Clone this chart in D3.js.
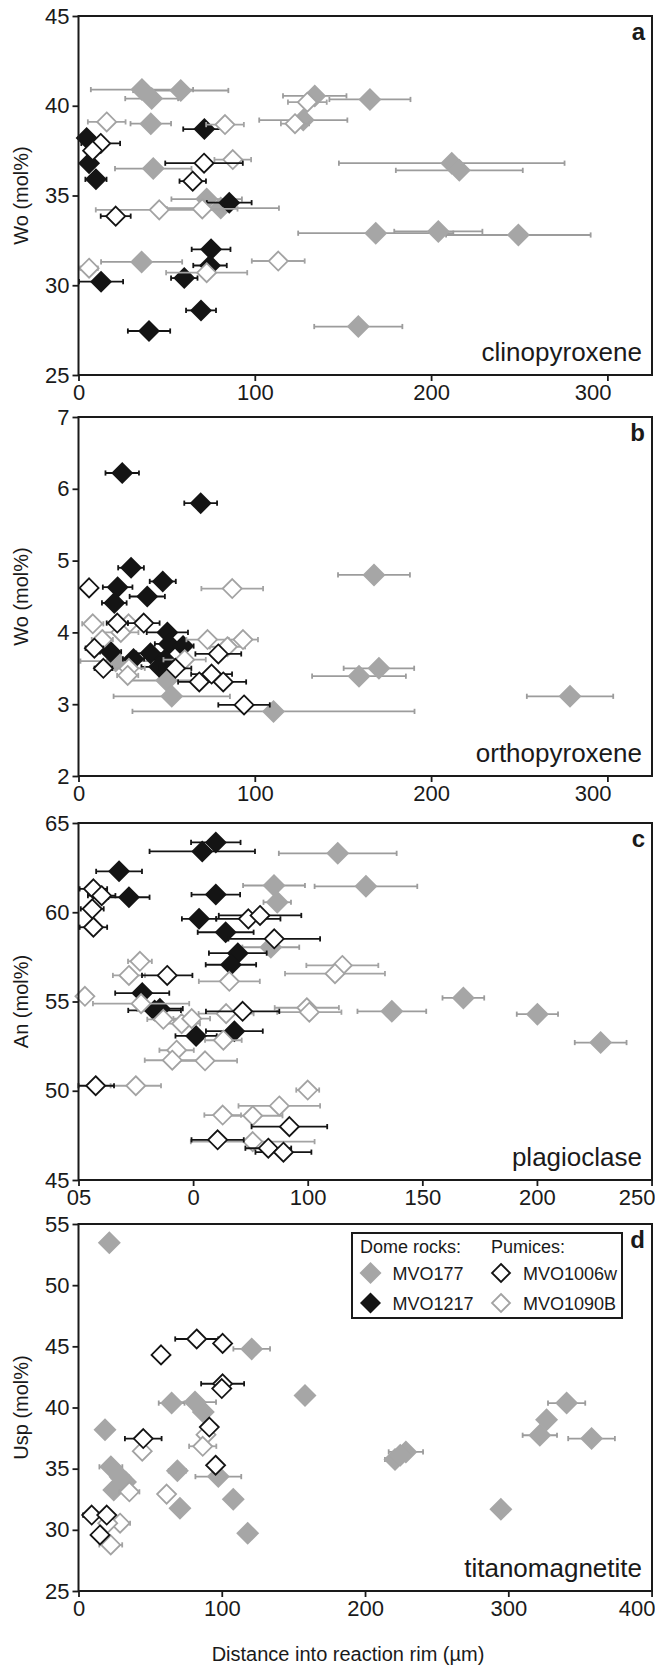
<!DOCTYPE html>
<meta charset="utf-8">
<style>
body { margin: 0; background: #fff; }
text { font-family: "Liberation Sans", Arial, sans-serif; fill: #1a1a1a; }
.axis line { stroke: #1a1a1a; stroke-width: 1.8px; }
.axis text { font-size: 22px; fill: #1a1a1a; }
.axis path { display: none; }
</style>
<script src="https://d3js.org/d3.v7.min.js"></script>
<body>
<script>
// sample names
const samples = ['MVO177', 'MVO1217', 'MVO1006w', 'MVO1090B'];

// each point: [distance (um), composition (mol%), +/- error on distance]
// a - clinopyroxene, Wo
const cpx177 = [[36,40.9,29],[58,40.85,27],[41.5,40.4,15],[41,39.0,11.5],[42.4,36.5,21.7],[72.7,34.8,20],[80.7,34.3,33],[35.8,31.3,23],[134,40.55,18],[127.5,39.2,25],[165.3,40.35,23],[211.7,36.8,64],[216,36.4,36],[168.6,32.9,44],[204.1,33.0,25],[249.5,32.8,41],[158.7,27.7,25]];
const cpx1217 = [[4.6,38.2,4],[71.4,38.7,12],[6,36.8,3],[9.9,35.9,6],[85.5,34.6,12.7],[75.2,32.0,11],[74.6,31.1,9.5],[12.8,30.2,12.5],[60,30.4,7.5],[69.5,28.6,8.5],[40,27.45,12]];
const cpx1006w = [[12.6,37.9,11],[8,37.5,4],[71.2,36.8,22],[64.8,35.8,7.5],[21.1,33.85,8.5]];
const cpx1090B = [[16,39.1,10.7],[83.1,38.95,10.7],[87.5,37.0,10.4],[45.8,34.2,36],[70.2,34.25,20],[6,30.95,5],[113.3,31.35,15],[72.7,30.7,23],[129.8,40.2,11],[122.8,39.0,8]];

// b - orthopyroxene, Wo
const opx177 = [[21.1,3.6,20],[50,3.33,21],[52.9,3.11,33],[110.6,2.9,80],[167.6,4.8,20.4],[170.4,3.5,20],[159.1,3.39,26.6],[278.8,3.11,24.5]];
const opx1217 = [[24.8,6.22,9.5],[69.3,5.8,9.3],[29.8,4.9,7.3],[47.8,4.71,7.4],[22.2,4.63,8.4],[39,4.5,10],[20.3,4.41,7],[50.4,4.0,11.7],[51.3,3.84,8],[59.3,3.81,6],[40.8,3.71,8],[18.2,3.73,6],[31.2,3.63,6],[49,3.62,8],[45.7,3.52,10]];
const opx1006w = [[6,4.62,4],[37,4.13,9],[22,4.13,6],[9,3.78,5],[14.1,3.5,5],[79.3,3.7,13],[75.5,3.42,11.6],[68.5,3.31,12],[82.1,3.31,13],[93.9,2.99,14.6],[55,3.5,9]];
const opx1090B = [[87.2,4.61,17.5],[8.1,4.12,6],[28.4,4.12,8],[13.5,3.9,6],[24,4.0,10],[73.2,3.9,12],[93.3,3.9,8.5],[84.5,3.8,10],[60.2,3.62,12],[28.6,3.5,9],[27.9,3.4,6]];

// c - plagioclase, An
const plag177 = [[113.1,63.3,25.7],[125.4,61.45,22.4],[85.3,61.5,13.5],[86.7,60.56,6],[83.9,58.04,12.4],[136.7,54.45,15],[167.9,55.2,9.1],[200.2,54.29,9],[227.8,52.7,11.3]];
const plag1217 = [[59.9,63.91,10.8],[54,63.41,23],[17.7,62.29,10],[59.9,60.99,10.6],[22,60.84,9],[52.6,59.63,7.5],[64.2,58.88,12.2],[69.5,57.71,12.6],[66.5,57.06,11],[27.8,55.47,11.8],[33.2,54.5,11.5],[35.5,54.6,10],[51.3,53.07,9],[68,53.34,12.4]];
const plag1006w = [[6.5,61.31,6],[10.1,60.93,6],[6,60.19,5],[6.5,59.16,6],[74.1,59.63,14],[79.2,59.82,18],[85.4,58.51,20],[38.7,56.46,11],[71.6,54.45,16],[7.5,50.28,8],[92,47.99,16.5],[60.7,47.25,11.4],[82.8,46.78,10],[89.4,46.56,12.2]];
const plag1090B = [[26.8,57.25,5.2],[22,56.46,7],[65.8,56.13,13.3],[2.8,55.29,0],[27.3,54.88,21],[37,54.0,7],[45,53.76,8],[49.4,54.04,8],[64.4,54.32,12],[63.2,52.83,8],[42.8,52.27,7.5],[40.9,51.71,12],[55.2,51.68,14],[25,50.28,11],[62.9,48.64,8],[76,48.6,13],[87.6,49.15,17.8],[100,50.04,5],[76,47.15,27],[115.1,57.02,15.7],[111.9,56.56,21.8],[99.6,54.65,14],[100.7,54.4,14]];

// d - titanomagnetite, Usp
const mt177 = [[21.5,53.47,4],[18.5,38.19,3],[22.6,35.15,8],[29,34.33,6],[32.8,33.9,5],[24.6,33.25,5],[65,40.36,9],[81.3,40.44,14.7],[87.1,39.63,5],[69,34.82,6],[97.6,34.35,16],[70.8,31.76,4],[108,32.49,4],[118.1,29.72,4],[120.9,44.79,12.8],[158.1,40.99,4],[220.9,35.75,7],[228.5,36.37,12],[224.6,36.1,5],[340.7,40.36,13],[326.7,39.0,5],[322,37.73,12],[358.1,37.46,16.3],[294.8,31.68,4]];
const mt1217 = [];
const mt1006w = [[82.5,45.6,15],[100.6,45.24,4],[57.6,44.3,0],[100.6,41.94,15],[100,41.55,4],[91.3,38.4,3],[45.2,37.46,12.8],[95.7,35.28,3],[9.2,31.21,6],[19.7,31.21,4],[15,29.58,3]];
const mt1090B = [[89,37.78,4],[86.7,36.83,9.5],[44.5,36.43,3],[35.5,33.11,7],[61.5,32.92,3],[29,30.54,7],[20.4,30.54,4],[22.5,28.77,8]];

// tick labels
const xTicksPx = [0, 100, 200, 300];
const xTicksPlag = [0, 50, 100, 150, 200, 250];
const xLabelsPlag = ['05', '0', '100', '150', '200', '250'];
const xTicksMt = [0, 100, 200, 300, 400];

const styles = {
  MVO177:   { fill: '#a6a6a6', stroke: 'none',    bar: '#9c9c9c', r: 11.5 },
  MVO1217:  { fill: '#141414', stroke: 'none',    bar: '#141414', r: 11 },
  MVO1006w: { fill: '#ffffff', stroke: '#141414', bar: '#141414', r: 9.5 },
  MVO1090B: { fill: '#ffffff', stroke: '#a3a3a3', bar: '#a3a3a3', r: 9.5 }
};
const drawOrder = ['MVO177', 'MVO1217', 'MVO1090B', 'MVO1006w'];

const left = 78.5, right = 652;

const panels = [
  { key: 'a', name: 'clinopyroxene', yLabel: 'Wo (mol%)', top: 16, bottom: 375,
    yDom: [25, 45], yTicks: d3.range(25, 46, 5), xMax: 325.3, xTicks: xTicksPx, xLabels: null,
    data: { MVO177: cpx177, MVO1217: cpx1217, MVO1006w: cpx1006w, MVO1090B: cpx1090B } },
  { key: 'b', name: 'orthopyroxene', yLabel: 'Wo (mol%)', top: 417, bottom: 776,
    yDom: [2, 7], yTicks: d3.range(2, 8, 1), xMax: 325.3, xTicks: xTicksPx, xLabels: null,
    data: { MVO177: opx177, MVO1217: opx1217, MVO1006w: opx1006w, MVO1090B: opx1090B } },
  { key: 'c', name: 'plagioclase', yLabel: 'An (mol%)', top: 823, bottom: 1180,
    yDom: [45, 65], yTicks: d3.range(45, 66, 5), xMax: 250.2, xTicks: xTicksPlag, xLabels: xLabelsPlag,
    data: { MVO177: plag177, MVO1217: plag1217, MVO1006w: plag1006w, MVO1090B: plag1090B } },
  { key: 'd', name: 'titanomagnetite', yLabel: 'Usp (mol%)', top: 1224, bottom: 1591,
    yDom: [25, 55], yTicks: d3.range(25, 56, 5), xMax: 400.3, xTicks: xTicksMt, xLabels: null,
    data: { MVO177: mt177, MVO1217: mt1217, MVO1006w: mt1006w, MVO1090B: mt1090B }, legend: true }
];

const svg = d3.select('body').append('svg')
  .attr('width', 655)
  .attr('height', 1668);

function diamond(r) {
  return `M0,${-r}L${r},0L0,${r}L${-r},0Z`;
}

panels.forEach(p => {
  const x = d3.scaleLinear().domain([0, p.xMax]).range([left, right]);
  const y = d3.scaleLinear().domain(p.yDom).range([p.bottom, p.top]);
  const g = svg.append('g');

  const xAxis = d3.axisBottom(x).tickValues(p.xTicks).tickSize(6).tickSizeOuter(0).tickPadding(3);
  xAxis.tickFormat((d, i) => p.xLabels ? p.xLabels[i] : d3.format('d')(d));
  const xg = g.append('g').attr('class', 'axis')
    .attr('transform', `translate(0,${p.bottom})`)
    .call(xAxis);
  // last label sits against the page edge, as in the original
  xg.selectAll('.tick text').filter((d, i, n) => i === n.length - 1)
    .attr('text-anchor', 'end').attr('x', 3.5);

  g.append('g').attr('class', 'axis')
    .attr('transform', `translate(${left},0)`)
    .call(d3.axisLeft(y).tickValues(p.yTicks).tickFormat(d3.format('d'))
      .tickSize(6).tickSizeOuter(0).tickPadding(3));

  drawOrder.forEach(s => {
    const st = styles[s];
    const pts = p.data[s];
    const withErr = pts.filter(d => d[2] > 0);
    const bars = g.append('g').attr('stroke', st.bar).attr('stroke-width', 1.8);
    bars.selectAll('line.bar').data(withErr).join('line')
      .attr('class', 'bar')
      .attr('x1', d => x(Math.max(0, d[0] - d[2]))).attr('x2', d => x(d[0] + d[2]))
      .attr('y1', d => y(d[1])).attr('y2', d => y(d[1]));
    bars.selectAll('line.capl').data(withErr).join('line')
      .attr('class', 'capl')
      .attr('x1', d => x(Math.max(0, d[0] - d[2]))).attr('x2', d => x(Math.max(0, d[0] - d[2])))
      .attr('y1', d => y(d[1]) - 2.6).attr('y2', d => y(d[1]) + 2.6);
    bars.selectAll('line.capr').data(withErr).join('line')
      .attr('class', 'capr')
      .attr('x1', d => x(d[0] + d[2])).attr('x2', d => x(d[0] + d[2]))
      .attr('y1', d => y(d[1]) - 2.6).attr('y2', d => y(d[1]) + 2.6);

    g.append('g').selectAll('path').data(pts).join('path')
      .attr('transform', d => `translate(${x(d[0])},${y(d[1])})`)
      .attr('d', diamond(st.r))
      .attr('fill', st.fill)
      .attr('stroke', st.stroke)
      .attr('stroke-width', 1.8);
  });

  // frame
  g.append('rect')
    .attr('x', left).attr('y', p.top)
    .attr('width', right - left).attr('height', p.bottom - p.top)
    .attr('fill', 'none').attr('stroke', '#1a1a1a').attr('stroke-width', 2);

  g.append('text')
    .attr('x', right - 7).attr('y', p.top + 24)
    .attr('text-anchor', 'end')
    .style('font-size', '24px').style('font-weight', 'bold')
    .text(p.key);

  g.append('text')
    .attr('x', right - 10).attr('y', p.bottom - 14)
    .attr('text-anchor', 'end')
    .style('font-size', '26px')
    .text(p.name);

  g.append('text')
    .attr('transform', `translate(28,${(p.top + p.bottom) / 2}) rotate(-90)`)
    .attr('text-anchor', 'middle')
    .style('font-size', '20px')
    .text(p.yLabel);

  if (p.legend) {
    const lg = g.append('g').attr('transform', `translate(${right - 300},${p.top + 9})`);
    lg.append('rect').attr('width', 270).attr('height', 85)
      .attr('fill', '#fff').attr('stroke', '#1a1a1a').attr('stroke-width', 2);
    lg.append('text').attr('x', 8).attr('y', 20).style('font-size', '18px').text('Dome rocks:');
    lg.append('text').attr('x', 139).attr('y', 20).style('font-size', '18px').text('Pumices:');
    const items = [
      { s: samples[0], cx: 18.5, cy: 40 },
      { s: samples[1], cx: 18.5, cy: 70 },
      { s: samples[2], cx: 149, cy: 40 },
      { s: samples[3], cx: 149, cy: 70 }
    ];
    items.forEach(it => {
      const st = styles[it.s];
      lg.append('path')
        .attr('transform', `translate(${it.cx},${it.cy})`)
        .attr('d', diamond(st.r - 0.5))
        .attr('fill', st.fill).attr('stroke', st.stroke).attr('stroke-width', 1.8);
      lg.append('text').attr('x', it.cx + 22).attr('y', it.cy + 6.5)
        .style('font-size', '18px').text(it.s);
    });
  }
});

svg.append('text')
  .attr('x', 348).attr('y', 1661)
  .attr('text-anchor', 'middle')
  .style('font-size', '20px')
  .text('Distance into reaction rim (\u00b5m)');
</script>
</body>
</html>
